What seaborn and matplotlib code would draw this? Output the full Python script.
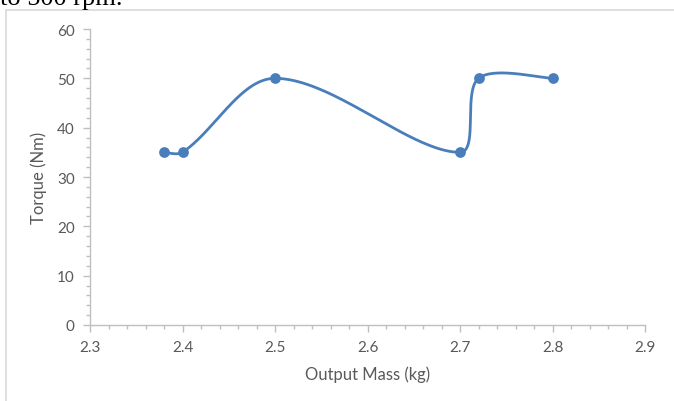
import numpy as np
import pandas as pd
import matplotlib
matplotlib.use("Agg")
import matplotlib.pyplot as plt
from matplotlib.lines import Line2D
from matplotlib.ticker import MultipleLocator
import seaborn as sns

mass = [2.38, 2.40, 2.50, 2.70, 2.72, 2.80]
torque = [35, 35, 50, 35, 50, 50]
x_ticks = [2.3, 2.4, 2.5, 2.6, 2.7, 2.8, 2.9]
y_ticks = [0, 10, 20, 30, 40, 50, 60]

sns.set_theme(style="white")
plt.rcParams['font.family'] = ['Lato', 'DejaVu Sans']

W, H = 674, 402
fig = plt.figure(figsize=(W / 100, H / 100), dpi=100)
ax = fig.add_axes([90 / W, 76 / H, 555 / W, 296 / H])

xlim = (2.3, 2.9)
ylim = (0, 60)
# Excel-like smoothing: cardinal Bezier with tangents split by neighbouring segment lengths (pixel space)
sx = 555 / (xlim[1] - xlim[0])
sy = 296 / (ylim[1] - ylim[0])
P = np.column_stack([(np.array(mass) - xlim[0]) * sx, (np.array(torque) - ylim[0]) * sy])
n = len(P)
d = np.linalg.norm(np.diff(P, axis=0), axis=1)
c_in = [None] * n
c_out = [None] * n
tension = 1 / 3
for i in range(n):
    if i == 0:
        c_out[i] = P[0] + (P[1] - P[0]) * tension * 0.5
        continue
    if i == n - 1:
        c_in[i] = P[i] - (P[i] - P[i - 1]) * tension * 0.5
        continue
    T = P[i + 1] - P[i - 1]
    dp, dn = d[i - 1], d[i]
    c_in[i] = P[i] - T * tension * dp / (dp + dn)
    c_out[i] = P[i] + T * tension * dn / (dp + dn)
curve = []
t = np.linspace(0, 1, 80)[:, None]
for i in range(n - 1):
    p1, c1, c2, p2 = P[i], c_out[i], c_in[i + 1], P[i + 1]
    seg = ((1 - t) ** 3) * p1 + 3 * ((1 - t) ** 2) * t * c1 + 3 * (1 - t) * t ** 2 * c2 + t ** 3 * p2
    curve.append(seg if i == 0 else seg[1:])
curve = np.vstack(curve)
smooth = pd.DataFrame({"x": curve[:, 0] / sx + xlim[0], "y": curve[:, 1] / sy + ylim[0]})
pts = pd.DataFrame({"mass": mass, "torque": torque})

color = "#4a7ebb"
sns.lineplot(data=smooth, x="x", y="y", sort=False, estimator=None, color=color, lw=2.0, ax=ax)
sns.scatterplot(data=pts, x="mass", y="torque", color=color, s=60, edgecolor=color, linewidth=0, zorder=5, ax=ax)

ax.set_xlim(*xlim)
ax.set_ylim(*ylim)
ax.set_xticks(x_ticks)
ax.set_yticks(y_ticks)
ax.set_xticklabels([f"{v:.1f}" for v in x_ticks])
ax.set_yticklabels([str(v) for v in y_ticks])
ax.xaxis.set_minor_locator(MultipleLocator(0.02))
ax.yaxis.set_minor_locator(MultipleLocator(2))

axcol = "#bfbfbf"
for s in ["top", "right"]:
    ax.spines[s].set_visible(False)
for s in ["left", "bottom"]:
    ax.spines[s].set_color(axcol)
    ax.spines[s].set_linewidth(1.0)
ax.tick_params(axis="both", which="major", direction="out", length=5, color=axcol, width=1,
               labelsize=11, labelcolor="#595959", bottom=True, left=True)
ax.tick_params(axis="both", which="minor", direction="out", length=3, color=axcol, width=1,
               bottom=True, left=True)
ax.tick_params(axis="x", pad=6)
ax.tick_params(axis="y", pad=6)
ax.grid(False)
ax.set_xlabel("Output Mass (kg)", fontsize=12, color="#595959", labelpad=8)
ax.set_ylabel("Torque (Nm)", fontsize=12, color="#595959", labelpad=7)

# chart frame
bc = "#d9d9d9"
fig.add_artist(Line2D([5.5 / W, 5.5 / W], [0, 1 - 11 / H], transform=fig.transFigure, color=bc, lw=1.2))
fig.add_artist(Line2D([5.5 / W, 1], [1 - 11 / H, 1 - 11 / H], transform=fig.transFigure, color=bc, lw=1.2))

# cropped document text above chart
fig.text(0.0, 1 - 5 / H, "to 500 rpm.", fontsize=19, family=["Liberation Serif"], color="black",
         ha="left", va="baseline")

fig.savefig("out.png", dpi=100)
